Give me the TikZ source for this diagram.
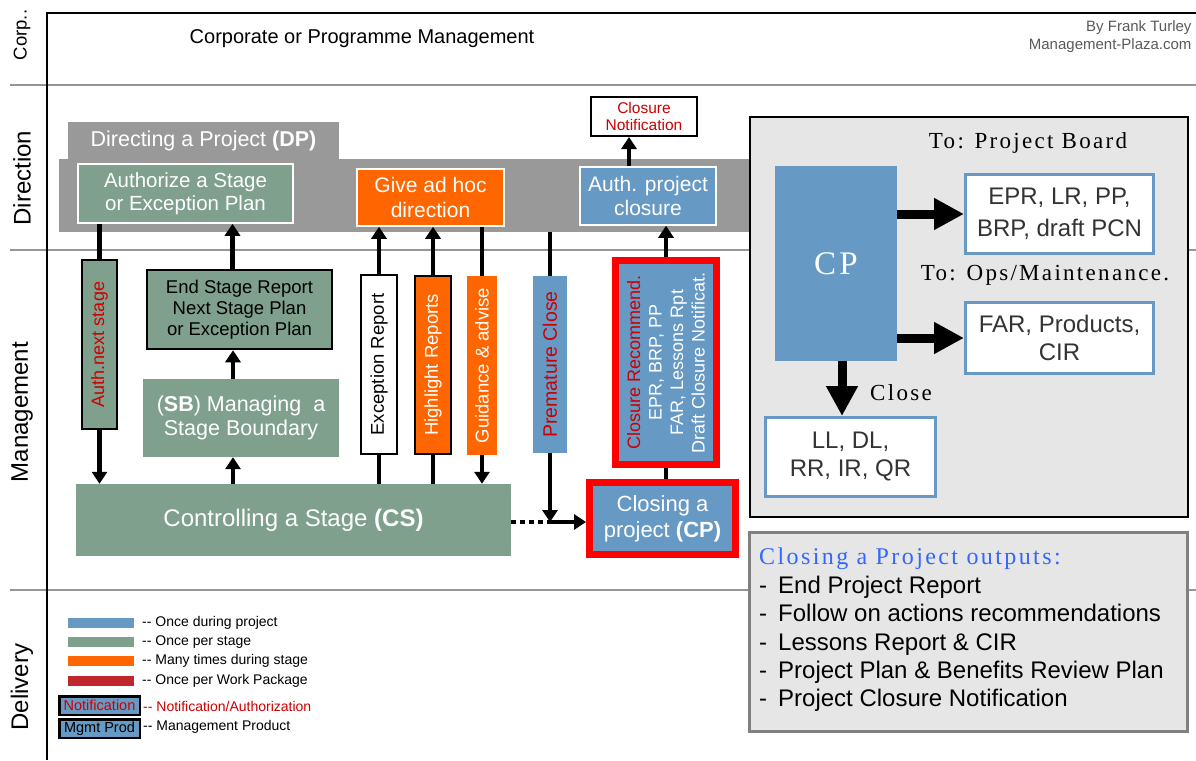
\documentclass[tikz,border=0pt]{standalone}
\usepackage{fontspec}
\setmainfont{Liberation Sans}
\newfontfamily\spacedserif[LetterSpace=10]{Liberation Serif}
\usetikzlibrary{arrows.meta, positioning}

\definecolor{pblue}{RGB}{102,153,196}
\definecolor{pgreen}{RGB}{126,160,140}
\definecolor{porange}{RGB}{255,102,0}
\definecolor{pred}{RGB}{192,39,45}
\definecolor{txtred}{RGB}{204,0,0}
\definecolor{bandgray}{RGB}{153,153,153}
\definecolor{lanegray}{RGB}{150,150,150}
\definecolor{panelgray}{RGB}{230,230,230}
\definecolor{titleblue}{RGB}{51,102,255}

\newcommand{\fs}[1]{\fontsize{#1}{1.15\dimexpr#1pt\relax}\selectfont}

\tikzset{
	lane/.style={rotate=90, font=\fs{24}},
	proc/.style={inner sep=1pt, align=center, text=white, font=\fs{20.5}},
	rimmed/.style={draw=white, line width=1.5pt},
	framed/.style={draw=black, line width=2.5pt},
	redframed/.style={draw=red, line width=7pt},
	vbox/.style={rotate=90, inner sep=1pt, align=center, font=\fs{18.5}},
	link/.style={line width=4.5pt},
	bigarrow/.style={line width=9pt, -{Triangle[length=30pt,width=30pt]}},
	outbox/.style={draw=pblue, line width=3pt, fill=white, text=black!80, align=center, font=\fontsize{24}{28}\selectfont},
	swatch/.style={minimum width=66pt, minimum height=10pt, inner sep=0pt},
	legtext/.style={anchor=west, inner sep=0pt, font=\fs{14}}
}

\begin{document}
\begin{tikzpicture}[x=1pt, y=-1pt, >={Triangle[length=12pt,width=15pt]}]
	\useasboundingbox (0,0) rectangle (1196,760);

	% lanes
	\draw [lanegray, line width=2pt] (10,85) -- (1196,85);
	\draw [lanegray, line width=2pt] (10,250) -- (1196,250);
	\draw [lanegray, line width=2pt] (10,590) -- (1196,590);
	\draw [line width=2pt] (47,760) -- (47,13) -- (1196,13);
	\node [lane, font=\fs{18.5}] (corp) at (22,35) {Corp..};
	\node [lane] (direction) at (22,178) {Direction};
	\node [lane] (management) at (22,412) {Management};
	\node [lane] (delivery) at (22,687) {Delivery};

	% corporate
	\node [font=\fs{20}] (corporate) at (362,39) {Corporate or Programme Management};
	\node [anchor=east, text=black!65, font=\fs{15}] (byline) at (1195,28) {By Frank Turley};
	\node [anchor=east, text=black!65, font=\fs{15}] (site) at (1195,46) {Management-Plaza.com};

	% directing a project
	\node [proc, fill=bandgray, minimum width=271pt, minimum height=38pt, font=\fs{21.5}] (dptab) at (203.5,141) {Directing a Project \textbf{(DP)}};
	\node [fill=bandgray, minimum width=691pt, minimum height=73pt] (dpband) at (404.5,195.5) {};
	\node [proc, rimmed, fill=pgreen, minimum width=215pt, minimum height=59pt] (auth) at (185.5,193.5) {Authorize a Stage\\or Exception Plan};
	\node [proc, rimmed, fill=porange, minimum width=147pt, minimum height=57pt, font=\fs{21}] (adhoc) at (430.5,197.5) {Give ad hoc\\direction};
	\node [proc, rimmed, fill=pblue, minimum width=136pt, minimum height=58pt, font=\fs{21}] (authclose) at (648,196) {Auth. project\\closure};
	\node [proc, draw=black, line width=2pt, fill=white, text=txtred, font=\fs{15.5}, minimum width=106pt, minimum height=39pt] (notif) at (644,116.5) {Closure\\Notification};

	% managing stages
	\node [vbox, framed, fill=pgreen, text=txtred, font=\fs{18}, minimum width=169pt, minimum height=35pt] (authnext) at (99.5,344.5) {Auth.next stage};
	\node [proc, framed, fill=pgreen, text=black, font=\fs{18.5}, minimum width=185pt, minimum height=79pt] (esr) at (239.5,309.5) {End Stage Report\\Next Stage Plan\\or Exception Plan};
	\node [proc, fill=pgreen, font=\fs{21.5}, minimum width=196pt, minimum height=78pt] (sb) at (241,418) {(\textbf{SB}) Managing~ a\\Stage Boundary};
	\node [vbox, framed, fill=white, minimum width=179pt, minimum height=36pt] (exc) at (379,364.5) {Exception Report};
	\node [vbox, framed, fill=porange, text=white, minimum width=178pt, minimum height=36pt] (high) at (433,365) {Highlight Reports};
	\node [vbox, fill=porange, text=white, minimum width=179pt, minimum height=30pt] (guide) at (482,365.5) {Guidance \& advise};
	\node [vbox, fill=pblue, text=txtred, font=\fs{19.5}, minimum width=177pt, minimum height=34pt] (prem) at (550,364.5) {Premature Close};
	\node [vbox, redframed, fill=pblue, text=white, font=\fontsize{18}{21.5}\selectfont, minimum width=204pt, minimum height=101pt] (crec) at (666,362.5) {\textcolor{txtred}{Closure Recommend.}\\EPR, BRP, PP\\FAR, Lessons Rpt\\Draft Closure Notificat.};
	\node [proc, fill=pgreen, font=\fs{24}, minimum width=435pt, minimum height=72pt] (cs) at (293.5,520) {Controlling a Stage \textbf{(CS)}};
	\node [proc, redframed, fill=pblue, font=\fontsize{22}{26}\selectfont, minimum width=146pt, minimum height=72pt] (cp) at (662.5,518.5) {Closing a\\project \textbf{(CP)}};
	\coordinate (join) at (550,522);

	% flows
	\draw [link] (auth.south -| authnext) -- (authnext.east);
	\draw [link, ->] (authnext.west) -- (authnext |- cs.north);
	\draw [link, ->] ([xshift=-8pt]sb.south |- cs.north) -- ([xshift=-8pt]sb.south);
	\draw [link, ->] ([xshift=-8pt]sb.north) -- ([xshift=-8pt]sb.north |- esr.south);
	\draw [link, ->] ([xshift=-7pt]esr.north) -- ([xshift=-7pt]esr.north |- auth.south);
	\draw [link] (exc |- cs.north) -- (exc.west);
	\draw [link, ->] (exc.east) -- (exc |- adhoc.south);
	\draw [link] (high |- cs.north) -- (high.west);
	\draw [link, ->] (high.east) -- (high |- adhoc.south);
	\draw [link] (guide |- adhoc.south) -- (guide.east);
	\draw [link, ->] (guide.west) -- (guide |- cs.north);
	\draw [link] (prem |- dpband.south) -- (prem.east);
	\draw [link, ->] (prem.west) -- (join);
	\draw [link, dash pattern=on 5pt off 4pt] (cs.east |- join) -- (join);
	\draw [link, ->] (join) -- (cp.west |- join);
	\draw [link] (crec.west) -- (crec.west |- cp.north);
	\draw [link, ->] (crec.east) -- (crec.east |- authclose.south);
	\draw [link, ->] ([xshift=-19pt]authclose.north) -- ([xshift=-19pt]authclose.north |- notif.south);

	% closing a project panel
	\node [draw=black, line width=2pt, fill=panelgray, minimum width=438pt, minimum height=400pt] (panel) at (969,317) {};
	\node [font=\spacedserif\fs{23}] (toboard) at (1028,143) {To: Project Board};
	\node [fill=pblue, text=white, font=\spacedserif\fs{33}, minimum width=122pt, minimum height=195pt] (cpbig) at (836,263.5) {CP};
	\node [outbox, font=\fontsize{24}{32}\selectfont, minimum width=188pt, minimum height=79pt] (epr) at (1059.5,214) {EPR, LR, PP,\\BRP, draft PCN};
	\node [font=\spacedserif\fs{23}] (toops) at (1045,275) {To: Ops/Maintenance.};
	\node [outbox, minimum width=188pt, minimum height=71pt] (far) at (1059.5,338) {FAR, Products,\\CIR};
	\node [outbox, minimum width=170pt, minimum height=79pt] (ll) at (850.5,457) {LL, DL,\\RR, IR, QR};
	\node [font=\spacedserif\fs{23}] (close) at (901,393) {Close};
	\draw [bigarrow] (cpbig.east |- epr.west) -- (epr.west);
	\draw [bigarrow] (cpbig.east |- far.west) -- (far.west);
	\draw [bigarrow] ([xshift=6pt]cpbig.south) -- ([xshift=6pt]cpbig.south |- ll.north);

	% outputs
	\node [draw=black!50, line width=3pt, fill=panelgray, minimum width=438pt, minimum height=199pt] (outputs) at (968,631.5) {};
	\node [anchor=base west, inner sep=0pt, align=left, font=\fontsize{24}{28.3}\selectfont, text=black] (outlist) at (759,706.8)
	{{\spacedserif\color{titleblue}Closing a Project outputs:}\\[1.3pt]
	\makebox[19pt][l]{-}End Project Report\\
	\makebox[19pt][l]{-}Follow on actions recommendations\\
	\makebox[19pt][l]{-}Lessons Report \& CIR\\
	\makebox[19pt][l]{-}Project Plan \& Benefits Review Plan\\
	\makebox[19pt][l]{-}Project Closure Notification};

	% legend
	\node [swatch, fill=pblue] (keyonce) at (101,623) {};
	\node [swatch, fill=pgreen] (keystage) at (101,642) {};
	\node [swatch, fill=porange] (keymany) at (101,661) {};
	\node [swatch, fill=pred] (keywp) at (101,681) {};
	\node [legtext] (lonce) at (142,623) {-{}- Once during project};
	\node [legtext] (lstage) at (142,642) {-{}- Once per stage};
	\node [legtext] (lmany) at (142,661) {-{}- Many times during stage};
	\node [legtext] (lwp) at (142,681) {-{}- Once per Work Package};
	\node [framed, fill=pblue, text=txtred, font=\fs{14.5}, inner sep=0pt, minimum width=80.5pt, minimum height=18.5pt] (keynotif) at (99.5,705.5) {Notification};
	\node [framed, fill=pblue, text=black, font=\fs{14.5}, inner sep=0pt, minimum width=80.5pt, minimum height=18.5pt] (keyprod) at (99.5,728.5) {Mgmt Prod};
	\node [legtext, text=txtred] (lnotif) at (143,706) {-{}- Notification/Authorization};
	\node [legtext] (lprod) at (143,727) {-{}- Management Product};
\end{tikzpicture}
\end{document}
